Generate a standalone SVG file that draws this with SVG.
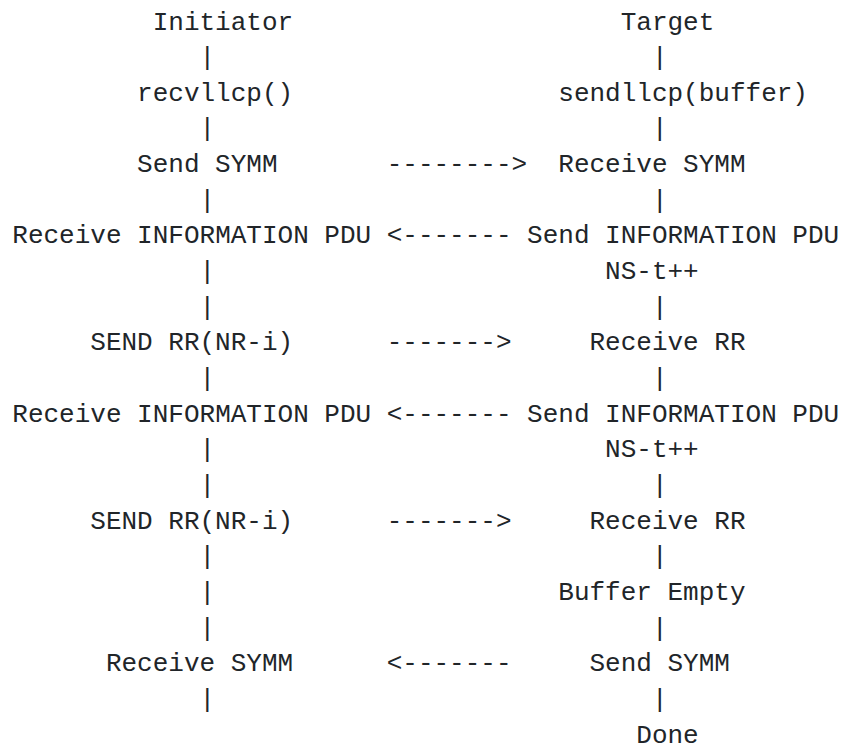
<svg xmlns="http://www.w3.org/2000/svg" width="844" height="744" viewBox="0 0 844 744">
  <style>
    .t { font-family: "Liberation Mono", "DejaVu Sans Mono", monospace; font-size: 26px; fill: #212529; white-space: pre; }
  </style>
  <rect width="844" height="744" fill="#ffffff"/>

  <!-- lifeline and message connectors, drawn as monospace characters -->
  <g id="connectors" class="t">
    <!-- initiator lifeline (column 12) -->
    <text x="199.5" y="65.15">|</text>
    <text x="199.5" y="136.45">|</text>
    <text x="199.5" y="207.75">|</text>
    <text x="199.5" y="279.05">|</text>
    <text x="199.5" y="314.7">|</text>
    <text x="199.5" y="386">|</text>
    <text x="199.5" y="457.3">|</text>
    <text x="199.5" y="492.95">|</text>
    <text x="199.5" y="564.25">|</text>
    <text x="199.5" y="599.9">|</text>
    <text x="199.5" y="635.55">|</text>
    <text x="199.5" y="706.85">|</text>
    <!-- target lifeline (column 41) -->
    <text x="651.9" y="65.15">|</text>
    <text x="651.9" y="136.45">|</text>
    <text x="651.9" y="207.75">|</text>
    <text x="651.9" y="314.7">|</text>
    <text x="651.9" y="386">|</text>
    <text x="651.9" y="492.95">|</text>
    <text x="651.9" y="564.25">|</text>
    <text x="651.9" y="635.55">|</text>
    <text x="651.9" y="706.85">|</text>
    <!-- messages -->
    <text x="386.7" y="172.1">--------&gt;</text>
    <text x="386.7" y="243.4">&lt;-------</text>
    <text x="386.7" y="350.35">-------&gt;</text>
    <text x="386.7" y="421.65">&lt;-------</text>
    <text x="386.7" y="528.6">-------&gt;</text>
    <text x="386.7" y="671.2">&lt;-------</text>
  </g>

  <!-- initiator side -->
  <g id="initiator" class="t"><text x="152.7" y="29.5">Initiator</text></g>
  <g id="recvllcp" class="t"><text x="137.1" y="100.8">recvllcp()</text></g>
  <g id="send-symm-i" class="t"><text x="137.1" y="172.1">Send SYMM</text></g>
  <g id="recv-info-1" class="t"><text x="12.3" y="243.4">Receive INFORMATION PDU</text></g>
  <g id="send-rr-1" class="t"><text x="90.3" y="350.35">SEND RR(NR-i)</text></g>
  <g id="recv-info-2" class="t"><text x="12.3" y="421.65">Receive INFORMATION PDU</text></g>
  <g id="send-rr-2" class="t"><text x="90.3" y="528.6">SEND RR(NR-i)</text></g>
  <g id="recv-symm-i" class="t"><text x="105.9" y="671.2">Receive SYMM</text></g>

  <!-- target side -->
  <g id="target" class="t"><text x="620.7" y="29.5">Target</text></g>
  <g id="sendllcp" class="t"><text x="558.3" y="100.8">sendllcp(buffer)</text></g>
  <g id="recv-symm-t" class="t"><text x="558.3" y="172.1">Receive SYMM</text></g>
  <g id="send-info-1" class="t"><text x="527.1" y="243.4">Send INFORMATION PDU</text></g>
  <g id="ns-inc-1" class="t"><text x="605.1" y="279.05">NS-t++</text></g>
  <g id="recv-rr-1" class="t"><text x="589.5" y="350.35">Receive RR</text></g>
  <g id="send-info-2" class="t"><text x="527.1" y="421.65">Send INFORMATION PDU</text></g>
  <g id="ns-inc-2" class="t"><text x="605.1" y="457.3">NS-t++</text></g>
  <g id="recv-rr-2" class="t"><text x="589.5" y="528.6">Receive RR</text></g>
  <g id="buffer-empty" class="t"><text x="558.3" y="599.9">Buffer Empty</text></g>
  <g id="send-symm-t" class="t"><text x="589.5" y="671.2">Send SYMM</text></g>
  <g id="done" class="t"><text x="636.3" y="742.5">Done</text></g>
</svg>
